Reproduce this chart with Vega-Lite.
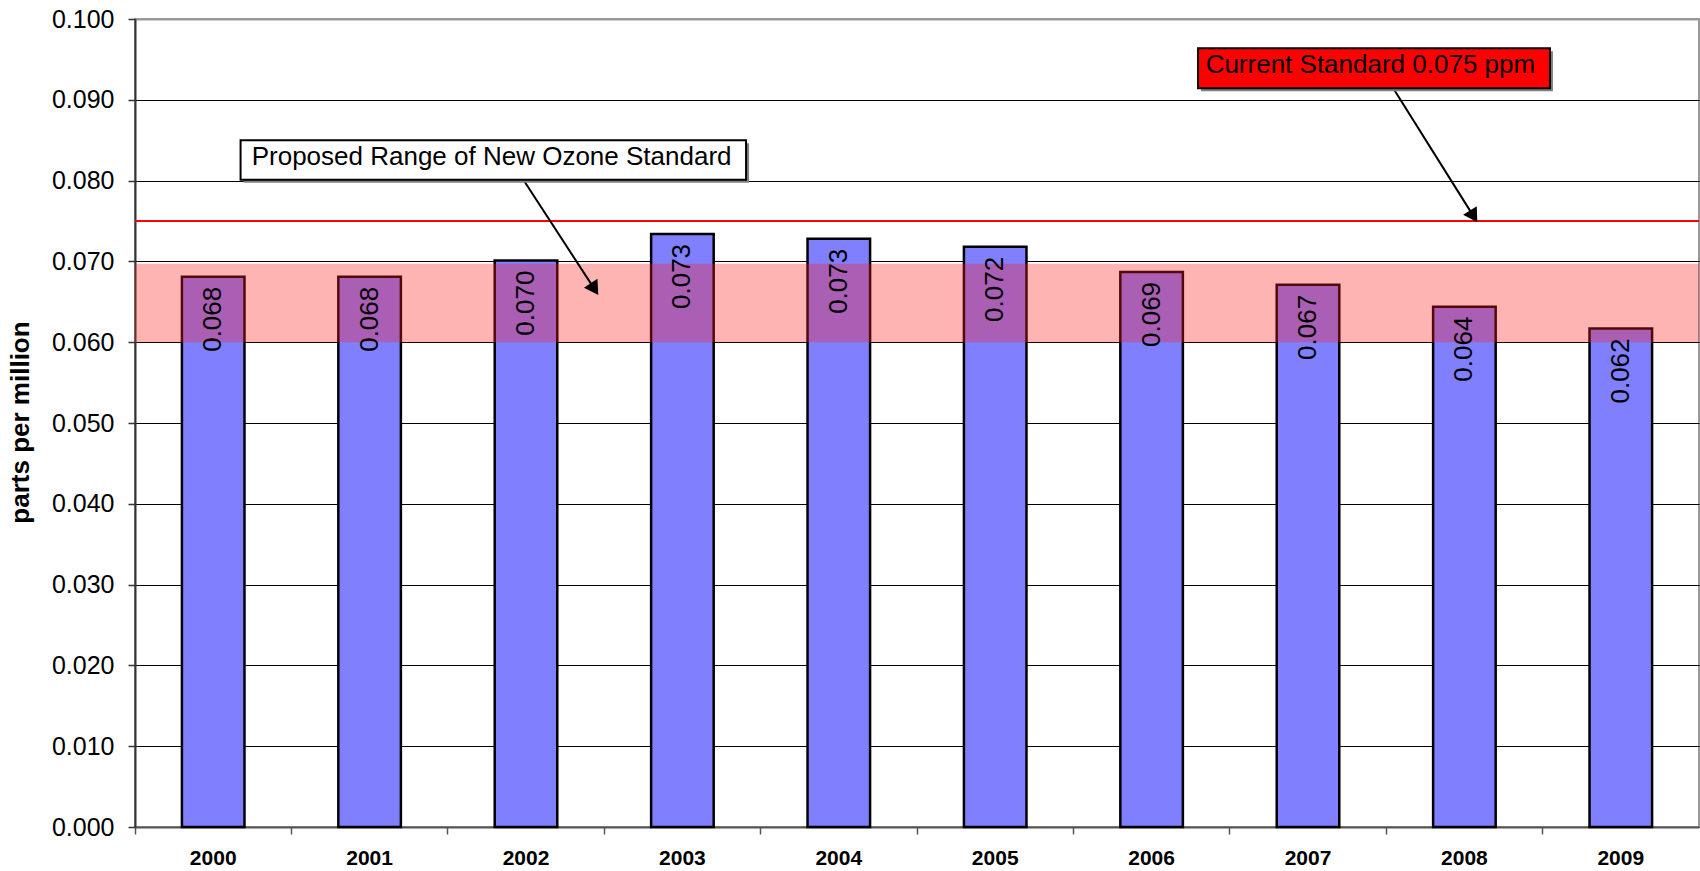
{
  "$schema": "https://vega.github.io/schema/vega-lite/v6.json",
  "width": 1564,
  "height": 808,
  "autosize": {"type": "none"},
  "padding": {"left": 135, "top": 19, "right": 1, "bottom": 44},
  "background": "white",
  "config": {
    "font": "Liberation Sans",
    "view": {"stroke": "#999999", "strokeWidth": 2}
  },
  "datasets": {
    "ozone": [
      {"year": "2000", "ppm": 0.0681},
      {"year": "2001", "ppm": 0.0681},
      {"year": "2002", "ppm": 0.0701},
      {"year": "2003", "ppm": 0.0734},
      {"year": "2004", "ppm": 0.0728},
      {"year": "2005", "ppm": 0.0718},
      {"year": "2006", "ppm": 0.0687},
      {"year": "2007", "ppm": 0.0671},
      {"year": "2008", "ppm": 0.0644},
      {"year": "2009", "ppm": 0.0617}
    ],
    "range": [{"from": 0, "to": 10, "low": 0.060, "high": 0.0697}],
    "standard": [{"ppm": 0.075}],
    "notes": [
      {"note": "Proposed Range of New Ozone Standard", "x1": 0.675, "x2": 3.907, "y1": 0.0801, "y2": 0.0850, "tx": 2.28, "ty": 0.0819, "ax1": 2.483, "ay1": 0.0801, "ax2": 2.938, "ay2": 0.06657},
      {"note": "Current Standard 0.075 ppm", "x1": 6.797, "x2": 9.047, "y1": 0.09142, "y2": 0.09637, "tx": 7.899, "ty": 0.09328, "ax1": 8.045, "ay1": 0.09142, "ax2": 8.559, "ay2": 0.07557}
    ]
  },
  "resolve": {"scale": {"x": "independent"}, "axis": {"x": "independent"}},
  "layer": [
    {
      "data": {"name": "ozone"},
      "mark": {"type": "bar", "fill": "#8080FF", "stroke": "black", "strokeWidth": 2.5, "width": {"band": 0.4}},
      "encoding": {
        "x": {
          "field": "year", "type": "ordinal",
          "scale": {"paddingInner": 0, "paddingOuter": 0},
          "axis": {
            "title": null, "bandPosition": 0, "labelAngle": 0,
            "labelFontSize": 21, "labelFontWeight": "bold", "labelColor": "black",
            "labelPadding": 13, "tickSize": 7, "tickColor": "#555555", "tickWidth": 1.5,
            "domainColor": "#555555", "domainWidth": 2, "grid": false
          }
        },
        "y": {
          "field": "ppm", "type": "quantitative",
          "scale": {"domain": [0, 0.1], "nice": false, "zero": true},
          "axis": {
            "values": [0, 0.01, 0.02, 0.03, 0.04, 0.05, 0.06, 0.07, 0.08, 0.09, 0.1],
            "format": ".3f",
            "labelFontSize": 25, "labelColor": "black", "labelPadding": 14,
            "tickSize": 7, "tickColor": "#333333", "tickWidth": 1.5,
            "domainColor": "#333333", "domainWidth": 2,
            "grid": true,
            "gridColor": {"condition": {"test": "datum.value >= 0.1", "value": "#999999"}, "value": "black"},
            "gridWidth": {"condition": {"test": "datum.value >= 0.1", "value": 2}, "value": 1},
            "gridOpacity": 1,
            "title": "parts per million",
            "titleFontSize": 26, "titleFontWeight": "bold", "titleColor": "black",
            "titleAngle": 270, "titleX": -115, "titleY": 403,
            "titleAlign": "center", "titleBaseline": "middle"
          }
        }
      }
    },
    {
      "data": {"name": "range"},
      "mark": {"type": "rect", "fill": "#ff1a1a", "opacity": 0.33},
      "encoding": {
        "x": {"field": "from", "type": "quantitative", "scale": {"domain": [0, 10], "nice": false, "zero": false}, "axis": null},
        "x2": {"field": "to"},
        "y": {"field": "low", "type": "quantitative"},
        "y2": {"field": "high"}
      }
    },
    {
      "data": {"name": "standard"},
      "mark": {"type": "rule", "color": "#ff0000", "strokeWidth": 2},
      "encoding": {"y": {"field": "ppm", "type": "quantitative"}}
    },
    {
      "data": {"name": "ozone"},
      "mark": {"type": "text", "angle": 270, "align": "right", "baseline": "middle", "dx": -10, "fontSize": 26, "color": "black"},
      "encoding": {
        "x": {"field": "year", "type": "ordinal", "scale": {"paddingInner": 0, "paddingOuter": 0}, "axis": null},
        "y": {"field": "ppm", "type": "quantitative"},
        "text": {"field": "ppm", "type": "quantitative", "format": ".3f"}
      }
    },
    {
      "data": {"name": "notes"},
      "mark": {"type": "rule", "color": "black", "strokeWidth": 2},
      "encoding": {
        "x": {"field": "ax1", "type": "quantitative", "scale": {"domain": [0, 10], "nice": false, "zero": false}, "axis": null},
        "x2": {"field": "ax2"},
        "y": {"field": "ay1", "type": "quantitative"},
        "y2": {"field": "ay2"}
      }
    },
    {
      "data": {"name": "notes"},
      "transform": [{"filter": "datum.note == 'Proposed Range of New Ozone Standard'"}],
      "mark": {"type": "point", "shape": "triangle-up", "filled": true, "color": "black", "opacity": 1, "size": 260, "angle": 146.9},
      "encoding": {
        "x": {"field": "ax2", "type": "quantitative", "scale": {"domain": [0, 10], "nice": false, "zero": false}, "axis": null},
        "y": {"field": "ay2", "type": "quantitative"}
      }
    },
    {
      "data": {"name": "notes"},
      "transform": [{"filter": "datum.note == 'Current Standard 0.075 ppm'"}],
      "mark": {"type": "point", "shape": "triangle-up", "filled": true, "color": "black", "opacity": 1, "size": 260, "angle": 147.9},
      "encoding": {
        "x": {"field": "ax2", "type": "quantitative", "scale": {"domain": [0, 10], "nice": false, "zero": false}, "axis": null},
        "y": {"field": "ay2", "type": "quantitative"}
      }
    },
    {
      "data": {"name": "notes"},
      "mark": {"type": "rect", "fill": "#808080", "xOffset": 3, "x2Offset": 3, "yOffset": 3, "y2Offset": 3},
      "encoding": {
        "x": {"field": "x1", "type": "quantitative", "scale": {"domain": [0, 10], "nice": false, "zero": false}, "axis": null},
        "x2": {"field": "x2"},
        "y": {"field": "y1", "type": "quantitative"},
        "y2": {"field": "y2"}
      }
    },
    {
      "data": {"name": "notes"},
      "mark": {"type": "rect", "stroke": "black", "strokeWidth": 2, "opacity": 1},
      "encoding": {
        "x": {"field": "x1", "type": "quantitative", "scale": {"domain": [0, 10], "nice": false, "zero": false}, "axis": null},
        "x2": {"field": "x2"},
        "y": {"field": "y1", "type": "quantitative"},
        "y2": {"field": "y2"},
        "fill": {
          "field": "note", "type": "nominal",
          "scale": {"domain": ["Proposed Range of New Ozone Standard", "Current Standard 0.075 ppm"], "range": ["#ffffff", "#ff0000"]},
          "legend": null
        }
      }
    },
    {
      "data": {"name": "notes"},
      "mark": {"type": "text", "align": "center", "baseline": "alphabetic", "fontSize": 26, "color": "black"},
      "encoding": {
        "x": {"field": "tx", "type": "quantitative", "scale": {"domain": [0, 10], "nice": false, "zero": false}, "axis": null},
        "y": {"field": "ty", "type": "quantitative"},
        "text": {"field": "note", "type": "nominal"}
      }
    }
  ]
}
